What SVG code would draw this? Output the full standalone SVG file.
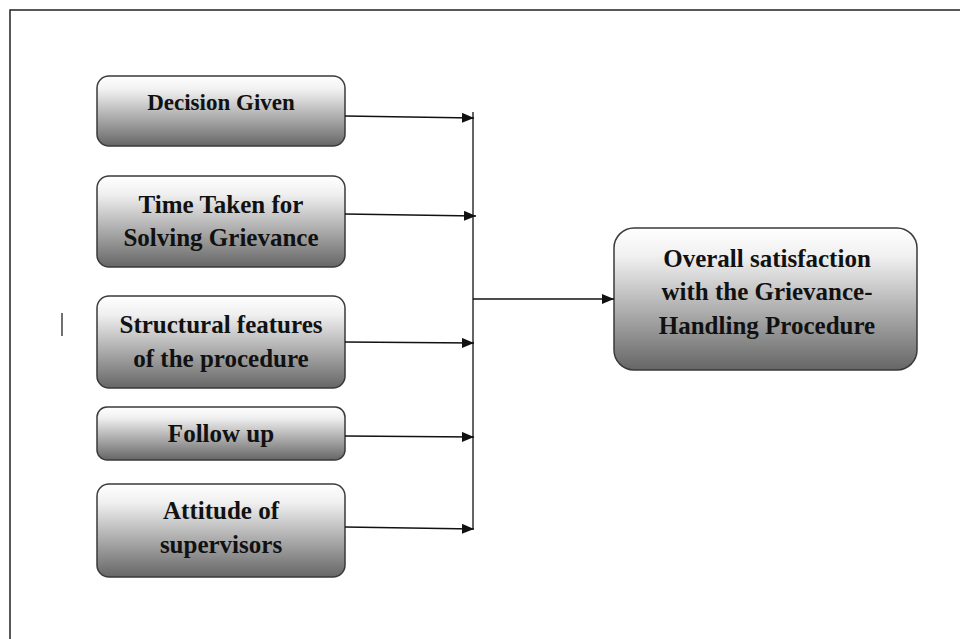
<svg xmlns="http://www.w3.org/2000/svg" width="960" height="639" viewBox="0 0 960 639">
<style>
.box{stroke:#3a3a3a;stroke-width:1.5;fill:url(#g)}
.t{font-family:"Liberation Serif","Times New Roman",serif;font-weight:bold;font-size:25px;fill:#111;text-anchor:middle}
.s{font-size:23px}
.c{stroke:#111;stroke-width:1.3;fill:none}
.a{marker-end:url(#ah)}
</style>
<defs>
<linearGradient id="g" x1="0" y1="0" x2="0" y2="1">
<stop offset="0" stop-color="#ffffff"/>
<stop offset="0.2" stop-color="#f0f0f0"/>
<stop offset="1" stop-color="#666666"/>
</linearGradient>
<marker id="ah" viewBox="0 0 12 10" refX="12" refY="5" markerWidth="12" markerHeight="10" markerUnits="userSpaceOnUse" orient="auto">
<path d="M0,0 L12,5 L0,10 Z" fill="#111"/>
</marker>
</defs>
<rect width="960" height="639" fill="#ffffff"/>
<g id="frame">
<path d="M10,639 V10 H960" stroke="#222" stroke-width="1.5" fill="none"/>
<line x1="62" y1="313" x2="62" y2="336" stroke="#222" stroke-width="1.3"/>
</g>
<g id="n1"><rect class="box" x="97" y="76" width="248" height="70" rx="12"/><text class="t s" x="221" y="110">Decision Given</text></g>
<g id="n2"><rect class="box" x="97" y="176" width="248" height="91" rx="12"/><text class="t" x="221" y="213">Time Taken for</text><text class="t" x="221" y="246">Solving Grievance</text></g>
<g id="n3"><rect class="box" x="97" y="296" width="248" height="92" rx="12"/><text class="t" x="221" y="333">Structural features</text><text class="t" x="221" y="367">of the procedure</text></g>
<g id="n4"><rect class="box" x="97" y="407" width="248" height="53" rx="10"/><text class="t" x="221" y="442">Follow up</text></g>
<g id="n5"><rect class="box" x="97" y="484" width="248" height="93" rx="12"/><text class="t" x="221" y="519">Attitude of</text><text class="t" x="221" y="553">supervisors</text></g>
<g id="n6"><rect class="box" x="614" y="228" width="303" height="142" rx="20"/><text class="t" x="767" y="267">Overall satisfaction</text><text class="t" x="767" y="300">with the Grievance-</text><text class="t" x="767" y="334">Handling Procedure</text></g>
<g id="connectors">
<line class="c" x1="473" y1="112" x2="473" y2="529"/>
<line class="c a" x1="345" y1="116" x2="474" y2="118"/>
<line class="c a" x1="345" y1="214" x2="476" y2="216"/>
<line class="c a" x1="345" y1="342" x2="474" y2="343"/>
<line class="c a" x1="345" y1="436" x2="474" y2="437"/>
<line class="c a" x1="345" y1="527" x2="474" y2="529"/>
<line class="c a" x1="473" y1="299" x2="614" y2="299"/>
</g>
</svg>
